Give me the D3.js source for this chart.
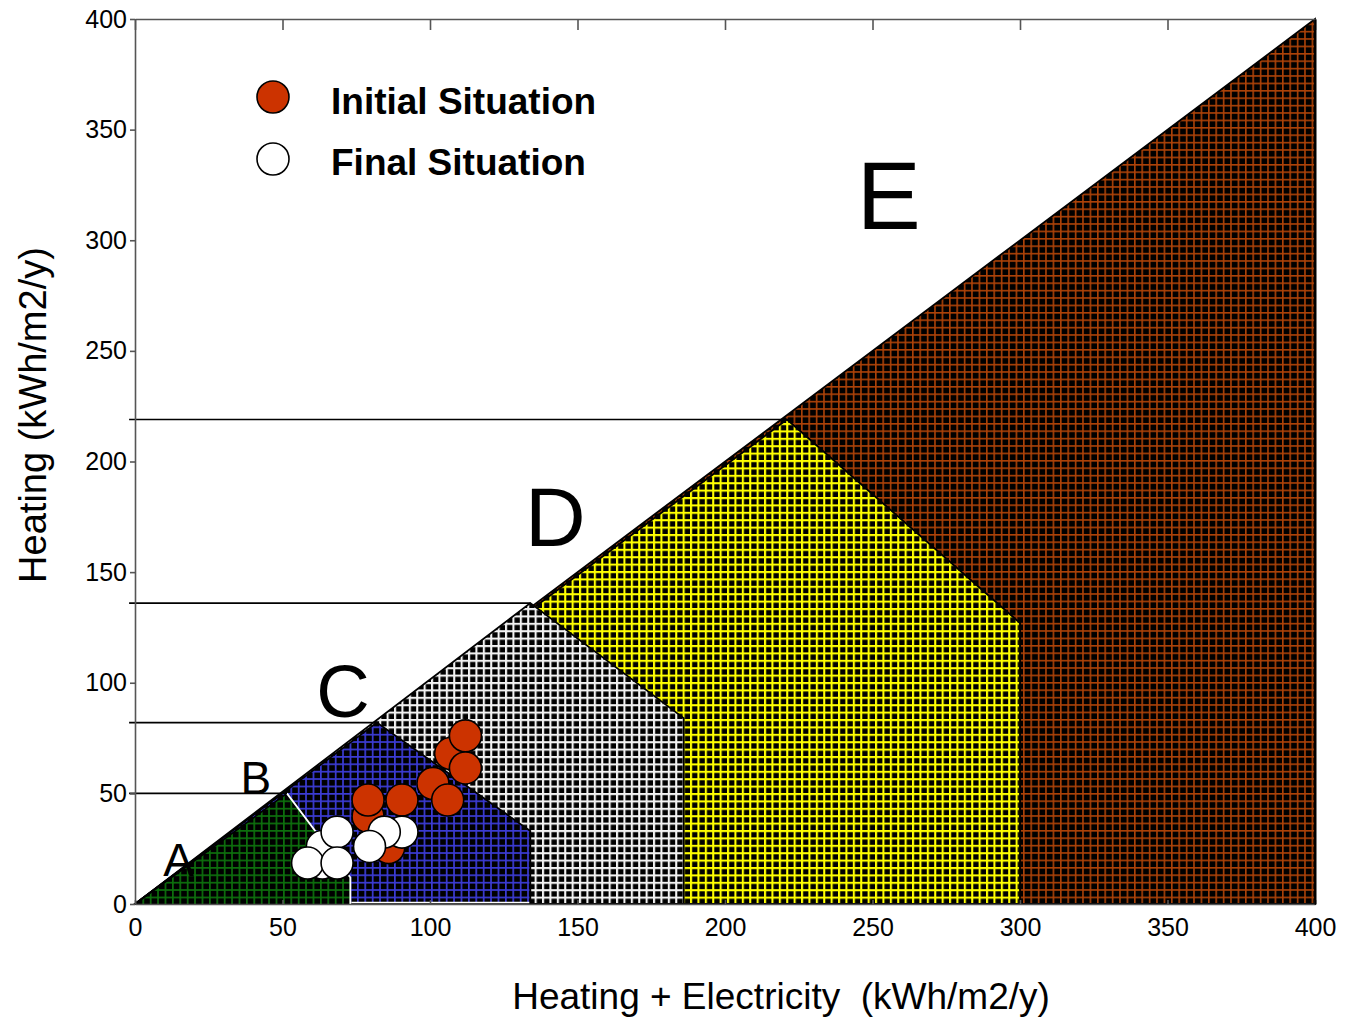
<!DOCTYPE html>
<html>
<head>
<meta charset="utf-8">
<script src="https://cdn.jsdelivr.net/npm/d3@7"></script>
<style>
  html, body { margin: 0; padding: 0; background: #fff; }
  svg { display: block; font-family: "Liberation Sans", Arial, sans-serif; }
</style>
</head>
<body>
<svg id="chart" width="1354" height="1019"></svg>
<script>
// Energy classes: corner on the upper edge, knee where the boundary turns vertical
const classNames = ["A", "B", "C", "D", "E"];
const classTop  = [[51.5, 50], [82, 82], [134, 136], [221, 219]];
const classKnee = [[73, 12], [134, 33], [186, 84], [300, 127]];
const refLevels = [50, 82, 136, 219];

// Buildings before and after renovation
const initialX = [79, 86, 107, 112, 112, 101, 106, 79, 90.5];
const initialY = [39.5, 25.5, 68, 76, 61.5, 54.5, 47, 47, 47];
const finalX = [63.5, 63.5, 90.5, 84.5, 79.5, 58.5, 68.5, 68.5];
const finalY = [18.5, 26, 32.5, 32.5, 26, 18.5, 32.5, 18.5];

const xTicks = [0, 50, 100, 150, 200, 250, 300, 350, 400];
const yTicks = [0, 50, 100, 150, 200, 250, 300, 350, 400];
const legendLabels = ["Initial Situation", "Final Situation"];

const svg = d3.select("#chart");
const x = d3.scaleLinear().domain([0, 400]).range([135, 1315]);
const y = d3.scaleLinear().domain([0, 400]).range([904, 19]);

// Grid-textured fills: black cells with coloured mesh lines
const fills = {
  A: { line: "#0d6f0d", w: 1.7 },
  B: { line: "#3b3bd4", w: 1.7 },
  C: { line: "#f2f2f2", w: 2.1 },
  D: { line: "#ffff00", w: 2.1 },
  E: { line: "#ad4208", w: 1.6 }
};
const period = 7.4;
const defs = svg.append("defs");
Object.entries(fills).forEach(([k, f]) => {
  const p = defs.append("pattern")
    .attr("id", "mesh" + k)
    .attr("patternUnits", "userSpaceOnUse")
    .attr("x", 135).attr("y", 904)
    .attr("width", period).attr("height", period);
  p.append("rect").attr("width", period).attr("height", period).attr("fill", "#000");
  p.append("rect").attr("x", 0).attr("y", 0).attr("width", period).attr("height", f.w).attr("fill", f.line);
  p.append("rect").attr("x", 0).attr("y", 0).attr("width", f.w).attr("height", period).attr("fill", f.line);
});

// Region polygons, widest class first so narrower classes sit on top
const regions = [{ name: "E", pts: [[0, 0], [400, 400], [400, 0]] }];
for (let i = 3; i >= 0; i--) {
  regions.push({
    name: classNames[i],
    pts: [[0, 0], classTop[i], classKnee[i], [classKnee[i][0], 0]]
  });
}
const toPath = pts => "M" + pts.map(p => x(p[0]) + "," + y(p[1])).join("L") + "Z";

svg.append("g").selectAll("path").data(regions).join("path")
  .attr("d", d => toPath(d.pts))
  .attr("fill", d => "url(#mesh" + d.name + ")")
  .attr("stroke", d => d.name === "A" ? "none" : "#000")
  .attr("stroke-width", 1.8)
  .attr("stroke-linejoin", "miter");

// Class A outline: dark along the top, light where it meets class B
svg.append("path")
  .attr("d", `M${x(0)},${y(0)}L${x(classTop[0][0])},${y(classTop[0][1])}`)
  .attr("stroke", "#000").attr("stroke-width", 1.6).attr("fill", "none");
svg.append("path")
  .attr("d", `M${x(classTop[0][0])},${y(classTop[0][1])}L${x(classKnee[0][0])},${y(classKnee[0][1])}L${x(classKnee[0][0])},${y(0)}`)
  .attr("stroke", "#fff").attr("stroke-width", 1.8).attr("fill", "none");
svg.append("path")
  .attr("d", `M${x(classKnee[0][0]) + 1},${y(0) - 1.5}L${x(classKnee[1][0]) - 1},${y(0) - 1.5}`)
  .attr("stroke", "#fff").attr("stroke-width", 1.5).attr("fill", "none");

// Horizontal class thresholds
svg.append("g").selectAll("line").data(refLevels).join("line")
  .attr("x1", x(-2)).attr("x2", (d, i) => x(classTop[i][0]))
  .attr("y1", d => y(d)).attr("y2", d => y(d))
  .attr("stroke", "#000").attr("stroke-width", 1.6);

// Axes
const axisColor = "#555";
const gTop = svg.append("g").attr("transform", `translate(0,${y(400)})`)
  .call(d3.axisTop(x).tickValues(xTicks).tickSizeInner(-11).tickSizeOuter(0).tickFormat(""));
const gBottom = svg.append("g").attr("transform", `translate(0,${y(0)})`)
  .call(d3.axisBottom(x).tickValues(xTicks).tickSizeInner(-4).tickSizeOuter(0).tickPadding(10));
const gLeft = svg.append("g").attr("transform", `translate(${x(0)},0)`)
  .call(d3.axisLeft(y).tickValues(yTicks).tickSizeInner(5).tickSizeOuter(0).tickPadding(3));
const gRight = svg.append("g").attr("transform", `translate(${x(400)},0)`)
  .call(d3.axisRight(y).tickValues([]).tickSizeOuter(0));

[gTop, gBottom, gLeft, gRight].forEach(g => {
  g.select(".domain").attr("stroke", axisColor).attr("stroke-width", 1.6);
  g.selectAll(".tick line").attr("stroke", axisColor).attr("stroke-width", 1.6);
  g.selectAll("text").attr("font-size", 25).attr("fill", "#000")
    .attr("font-family", '"Liberation Sans", Arial, sans-serif');
});
gBottom.selectAll("text").attr("dy", "0.71em").attr("y", 14);
gRight.select(".domain").attr("stroke", "#000").attr("stroke-width", 2);

// Class letters
const letters = [
  { t: "A", x: 14.8, y: 12.5, s: 46 },
  { t: "B", x: 41.0, y: 49.5, s: 46 },
  { t: "C", x: 70.5, y: 84.5, s: 74 },
  { t: "D", x: 142.5, y: 162, s: 84 },
  { t: "E", x: 255.5, y: 305, s: 96 }
];
svg.append("g").selectAll("text").data(letters).join("text")
  .attr("x", d => x(d.x)).attr("y", d => y(d.y))
  .attr("text-anchor", "middle").attr("font-size", d => d.s)
  .attr("fill", "#000").text(d => d.t);

// Building markers
const initialPts = initialX.map((v, i) => [v, initialY[i]]);
const finalPts = finalX.map((v, i) => [v, finalY[i]]);
const r = 16;
svg.append("g").selectAll("circle").data(initialPts).join("circle")
  .attr("cx", d => x(d[0])).attr("cy", d => y(d[1])).attr("r", r)
  .attr("fill", "#cc3300").attr("stroke", "#000").attr("stroke-width", 1.6);
svg.append("g").selectAll("circle").data(finalPts).join("circle")
  .attr("cx", d => x(d[0])).attr("cy", d => y(d[1])).attr("r", r)
  .attr("fill", "#fff").attr("stroke", "#000").attr("stroke-width", 1.6);

// Legend
const legend = svg.append("g");
const legendFill = ["#cc3300", "#fff"];
legendLabels.forEach((lab, i) => {
  legend.append("circle").attr("cx", 273).attr("cy", 97 + i * 62).attr("r", 16)
    .attr("fill", legendFill[i]).attr("stroke", "#000").attr("stroke-width", 1.6);
  legend.append("text").attr("x", 331).attr("y", 114 + i * 61)
    .attr("font-size", 37).attr("font-weight", "bold").attr("fill", "#000").text(lab);
});

// Axis titles
svg.append("text").attr("x", 781).attr("y", 1009).attr("text-anchor", "middle")
  .attr("font-size", 37).attr("fill", "#000")
  .attr("xml:space", "preserve").style("white-space", "pre")
  .text("Heating + Electricity  (kWh/m2/y)");
svg.append("text").attr("transform", "translate(46,415) rotate(-90)")
  .attr("text-anchor", "middle").attr("font-size", 38).attr("fill", "#000")
  .text("Heating (kWh/m2/y)");
</script>
</body>
</html>
